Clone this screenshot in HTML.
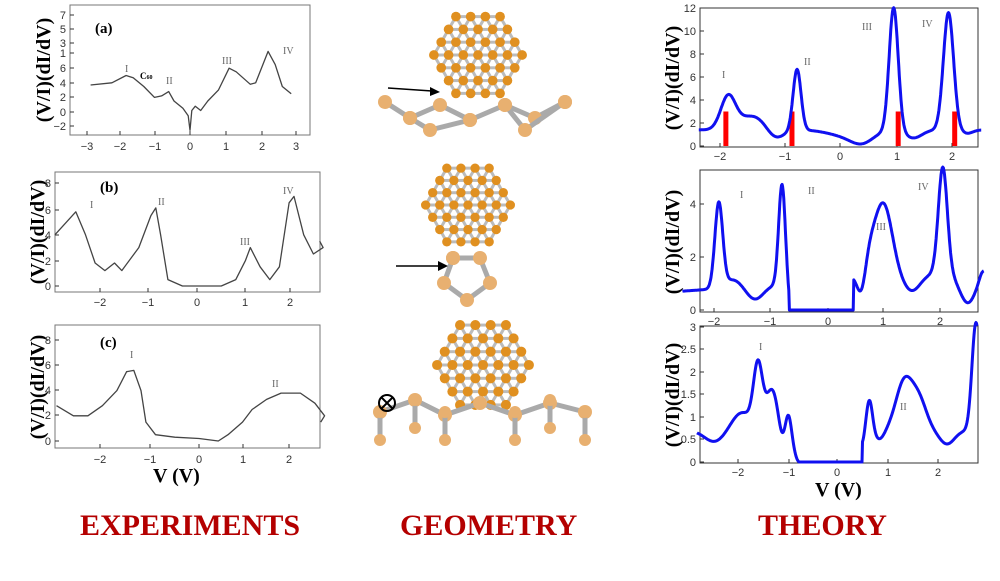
<!DOCTYPE html>
<html><head><meta charset="utf-8"><style>
body{margin:0;background:#fff;width:1000px;height:581px;overflow:hidden}
svg{font-family:"Liberation Serif",serif;position:absolute;left:0;top:0}
.t{font-family:"Liberation Sans",sans-serif;font-size:11px;fill:#333}
.yl{font-family:"Liberation Serif",serif;font-weight:bold;font-size:20px;fill:#000}
.big{font-family:"Liberation Serif",serif;font-weight:bold;font-size:30px;fill:#b40000}
.rl{font-family:"Liberation Serif",serif;font-size:10px;fill:#666}
</style></head><body>
<svg width="1000" height="581" xmlns="http://www.w3.org/2000/svg">
<rect width="1000" height="581" fill="#fff"/>
<text class="big" x="80" y="535">EXPERIMENTS</text>
<text class="big" x="400" y="535">GEOMETRY</text>
<text class="big" x="758" y="535">THEORY</text>
<text class="yl" transform="translate(50,70) rotate(-90)" text-anchor="middle">(V/I)(dI/dV)</text>
<text class="yl" transform="translate(44,232) rotate(-90)" text-anchor="middle">(V/I)(dI/dV)</text>
<text class="yl" transform="translate(44,387) rotate(-90)" text-anchor="middle">(V/I)(dI/dV)</text>
<text class="yl" transform="translate(679,78) rotate(-90)" text-anchor="middle">(V/I)(dI/dV)</text>
<text class="yl" transform="translate(679,242) rotate(-90)" text-anchor="middle">(V/I)(dI/dV)</text>
<text class="yl" transform="translate(679,395) rotate(-90)" text-anchor="middle">(V/I)(dI/dV)</text>
<text class="yl" x="153" y="482" font-size="19">V (V)</text>
<text class="yl" x="815" y="496" font-size="19">V (V)</text>
</svg>
<script>
var buf='';
function A(s){buf+=s;}
function box(x0,y0,x1,y1,c){A('<rect x="'+x0+'" y="'+y0+'" width="'+(x1-x0)+'" height="'+(y1-y0)+'" fill="none" stroke="'+c+'" stroke-width="1"/>');}
function xt(list,y,top,fs){for(var i=0;i<list.length;i++){var x=list[i][0],l=list[i][1];A('<text class="t" x="'+x+'" y="'+y+'" text-anchor="middle" font-size="'+(fs||11)+'">'+l+'</text><line x1="'+x+'" y1="'+top+'" x2="'+x+'" y2="'+(top-4)+'" stroke="#333"/>');}}
function yt(list,x,fs){for(var i=0;i<list.length;i++){var y=list[i][0],l=list[i][1];A('<text class="t" x="'+(x-4)+'" y="'+(y+4)+'" text-anchor="end" font-size="'+(fs||11)+'">'+l+'</text><line x1="'+x+'" y1="'+y+'" x2="'+(x+4)+'" y2="'+y+'" stroke="#333"/>');}}
function poly(pts,fx,fy,c,w){var s='';for(var i=0;i<pts.length;i++){s+=fx(pts[i][0]).toFixed(1)+','+fy(pts[i][1]).toFixed(1)+' ';}A('<polyline fill="none" stroke="'+c+'" stroke-width="'+w+'" stroke-linejoin="round" points="'+s+'"/>');}
function Gs(x,c,w){return Math.exp(-Math.pow((x-c)/w,2)/2);}
function curve(f,x0,x1,fx,fy){var p=[];for(var x=x0;x<=x1+1e-9;x+=0.01)p.push([x,Math.max(0,f(x))]);poly(p,fx,fy,'#1010f0',3);}
function ball(cx,cy,r){var pts=[],s=r/3.4,i,j,a,b;for(i=-5;i<=5;i++)for(j=-5;j<=5;j++){var x=cx+s*(i+(Math.abs(j)%2?0.5:0)),y=cy+s*0.87*j;if((x-cx)*(x-cx)+(y-cy)*(y-cy)<=r*r)pts.push([x,y]);}
 for(a=0;a<pts.length;a++)for(b=a+1;b<pts.length;b++){var d=Math.hypot(pts[a][0]-pts[b][0],pts[a][1]-pts[b][1]);if(d<s*1.05)A('<line x1="'+pts[a][0]+'" y1="'+pts[a][1]+'" x2="'+pts[b][0]+'" y2="'+pts[b][1]+'" stroke="#bbb" stroke-width="3"/>');}
 for(a=0;a<pts.length;a++)A('<circle cx="'+pts[a][0]+'" cy="'+pts[a][1]+'" r="'+(s*0.33)+'" fill="#e09020"/>');}
function chain(pts,col,rr){var i;for(i=0;i<pts.length-1;i++)A('<line x1="'+pts[i][0]+'" y1="'+pts[i][1]+'" x2="'+pts[i+1][0]+'" y2="'+pts[i+1][1]+'" stroke="#aaa" stroke-width="5"/>');for(i=0;i<pts.length;i++)A('<circle cx="'+pts[i][0]+'" cy="'+pts[i][1]+'" r="'+rr+'" fill="'+col+'"/>');}

try{
box(70,5,310,135,'#777');
xt([[87,'−3'],[120,'−2'],[155,'−1'],[190,'0'],[226,'1'],[262,'2'],[296,'3']],150,135);
yt([[112,'0'],[68,'6'],[83,'4'],[97,'2'],[126,'−2'],[15,'7'],[29,'5'],[43,'3'],[53,'1']],70,7);
A('<text x="95" y="33" font-weight="bold" font-size="15">(a)</text>');
A('<text class="rl" x="125" y="72">I</text><text x="140" y="79" font-size="9" font-weight="bold">C<tspan font-size="6">60</tspan></text><text class="rl" x="166" y="84">II</text><text class="rl" x="222" y="64">III</text><text class="rl" x="283" y="54">IV</text>');
poly([[-2.8,3.7],[-2.2,4],[-1.8,5],[-1.6,4.7],[-1.3,3.5],[-1,2],[-0.8,2.2],[-0.6,2.8],[-0.45,1.5],[-0.2,0.5],[-0.05,-0.5],[0,-2.5],[0.05,0.2],[0.15,0.8],[0.3,0.2],[0.5,1.5],[0.8,3],[1.1,6],[1.3,5.5],[1.7,3.8],[1.85,4],[2.2,8.3],[2.4,6.5],[2.6,3.5],[2.85,2.5]],function(v){return 190+35.5*v;},function(y){return 112-7.3*y;},'#444',1.3);

box(55,172,320,292,'#777');
xt([[100,'−2'],[148,'−1'],[197,'0'],[245,'1'],[290,'2']],306,292);
yt([[286,'0'],[261,'2'],[235,'4'],[210,'6'],[183,'8']],55,9);
A('<text x="100" y="192" font-weight="bold" font-size="15">(b)</text><text class="rl" x="90" y="208">I</text><text class="rl" x="158" y="205">II</text><text class="rl" x="240" y="245">III</text><text class="rl" x="283" y="194">IV</text>');
poly([[-2.93,4],[-2.5,5.8],[-2.3,4],[-2.1,1.8],[-1.9,1.2],[-1.7,1.8],[-1.55,1.2],[-1.2,3],[-0.95,5.5],[-0.85,6.1],[-0.75,4],[-0.6,0.5],[-0.3,0],[0.5,0],[0.8,0.5],[1.0,2],[1.1,3],[1.3,1.5],[1.5,0.5],[1.7,1.5],[1.9,6.5],[2.0,7],[2.2,4],[2.4,2.5],[2.6,3],[2.53,3.5]],function(v){return 197+48.5*v;},function(y){return 286-12.8*y;},'#444',1.3);

box(55,325,320,448,'#777');
xt([[100,'−2'],[150,'−1'],[199,'0'],[243,'1'],[289,'2']],463,448);
yt([[441,'0'],[415,'2'],[390,'4'],[365,'6'],[340,'8']],55,9);
A('<text x="100" y="347" font-weight="bold" font-size="15">(c)</text><text class="rl" x="130" y="358">I</text><text class="rl" x="272" y="387">II</text>');
poly([[-2.95,2.8],[-2.6,2],[-2.3,2],[-2,2.8],[-1.7,4],[-1.5,5.5],[-1.35,5.6],[-1.2,4],[-1.1,1.5],[-0.9,0.5],[-0.5,0.3],[0,0.2],[0.4,0],[0.6,0.5],[0.9,1.5],[1.1,2.5],[1.4,3.3],[1.7,3.8],[2.1,3.8],[2.4,3],[2.6,2],[2.52,1.5]],function(v){return 199+48.3*v;},function(y){return 441-12.6*y;},'#444',1.3);
}catch(e){}

try{
box(700,8,978,147,'#333');
var fxa=function(v){return 840+56.5*v;}, fya=function(y){return 146-11.5*y;};
xt([[720,'−2'],[785,'−1'],[840,'0'],[897,'1'],[952,'2']],160,147);
yt([[146,'0'],[123,'2'],[100,'4'],[77,'6'],[54,'8'],[31,'10'],[8,'12']],700,11);
[-2.02,-0.85,1.03,2.03].forEach(function(v){A('<rect x="'+(fxa(v)-2.5)+'" y="'+fya(3)+'" width="5" height="'+(146-fya(3))+'" fill="#f00"/>');});
curve(function(x){return 1.4+2.8*Gs(x,-1.98,0.13)+1.2*Gs(x,-1.55,0.25)-0.9*Gs(x,-1.15,0.15)+5.3*Gs(x,-0.76,0.07)-0.9*Gs(x,0.4,0.2)-0.5*Gs(x,0.1,0.3)+10.7*Gs(x,0.95,0.08)-0.7*Gs(x,1.3,0.15)+10.2*Gs(x,1.92,0.09)-0.3*Gs(x,2.25,0.1);},-2.5,2.5,fxa,fya);
A('<text class="rl" x="722" y="78">I</text><text class="rl" x="804" y="65">II</text><text class="rl" x="862" y="30">III</text><text class="rl" x="922" y="27">IV</text>');

box(700,170,978,312,'#333');
var fxb=function(v){return 828+56*v;}, fyb=function(y){return 310-26.5*y;};
xt([[714,'−2'],[770,'−1'],[828,'0'],[883,'1'],[940,'2']],325,312);
yt([[310,'0'],[257,'2'],[204,'4']],700,11);
curve(function(x){if(x>-0.7&&x<0.45)return 0;return 1.1+0.15*x+3.2*Gs(x,-1.95,0.07)+0.3*Gs(x,-1.7,0.15)-0.5*Gs(x,-1.3,0.15)+3.9*Gs(x,-0.82,0.06)+2.6*Gs(x,1.0,0.15)+1*Gs(x,0.72,0.15)-0.6*Gs(x,1.5,0.15)+4.0*Gs(x,2.05,0.08)-1.2*Gs(x,2.5,0.15)-1.7*Gs(x,-0.55,0.12)-1.2*Gs(x,0.6,0.08)+0.2*Gs(x,2.75,0.05);},-2.6,2.78,fxb,fyb);
A('<text class="rl" x="740" y="198">I</text><text class="rl" x="808" y="194">II</text><text class="rl" x="876" y="230">III</text><text class="rl" x="918" y="190">IV</text>');

box(700,326,978,463,'#333');
var fxc=function(v){return 837+50*v;}, fyc=function(y){return 462-45*y;};
xt([[738,'−2'],[789,'−1'],[837,'0'],[888,'1'],[938,'2']],476,463);
yt([[462,'0'],[439,'0.5'],[417,'1'],[394,'1.5'],[372,'2'],[349,'2.5'],[327,'3']],700,11);
curve(function(x){if(x>-0.75&&x<0.5)return 0;return 0.7-0.25*Gs(x,-2.45,0.2)+0.4*Gs(x,-1.9,0.2)+1.4*Gs(x,-1.58,0.09)+0.9*Gs(x,-1.3,0.12)+0.5*Gs(x,-0.97,0.06)-0.3*Gs(x,-1.1,0.07)-0.7*Gs(x,-0.75,0.12)+0.7*Gs(x,0.65,0.06)-0.3*Gs(x,0.5,0.05)+1.1*Gs(x,1.35,0.17)+0.6*Gs(x,1.65,0.15)-0.3*Gs(x,2.2,0.15)+2.4*Gs(x,2.78,0.08)-0.2*Gs(x,0.85,0.1);},-2.8,2.8,fxc,fyc);
A('<text class="rl" x="759" y="350">I</text><text class="rl" x="900" y="410">II</text>');
}catch(e){}

try{
ball(478,55,50);
chain([[385,102],[410,118],[440,105],[470,120],[505,105],[535,118],[565,102]],'#e8b070',7);
chain([[410,118],[430,130],[470,120]],'#e8b070',7);
chain([[505,105],[525,130],[565,102]],'#e8b070',7);
A('<line x1="388" y1="88" x2="432" y2="91" stroke="#000" stroke-width="1.5"/><polygon points="440,92 430,87 430,96" fill="#000"/>');
ball(468,205,48);
chain([[453,258],[480,258],[490,283],[467,300],[444,283],[453,258]],'#e8b070',7);
A('<line x1="396" y1="266" x2="440" y2="266" stroke="#000" stroke-width="1.5"/><polygon points="448,266 438,261 438,271" fill="#000"/>');
ball(483,365,52);
chain([[380,412],[415,400],[445,415],[480,403],[515,415],[550,403],[585,412]],'#e8b070',7);
var xs=[380,445,515,585,415,550];
for(var k=0;k<xs.length;k++){var yy=k<4?412:400;chain([[xs[k],yy],[xs[k],yy+28]],'#e8b070',6);}
A('<circle cx="387" cy="403" r="8" fill="none" stroke="#000" stroke-width="2"/><line x1="381" y1="397" x2="393" y2="409" stroke="#000" stroke-width="2"/><line x1="393" y1="397" x2="381" y2="409" stroke="#000" stroke-width="2"/>');
}catch(e){}

document.body.insertAdjacentHTML('beforeend','<svg width="1000" height="581" xmlns="http://www.w3.org/2000/svg" style="position:absolute;left:0;top:0">'+buf+'</svg>');
</script>
</body></html>
